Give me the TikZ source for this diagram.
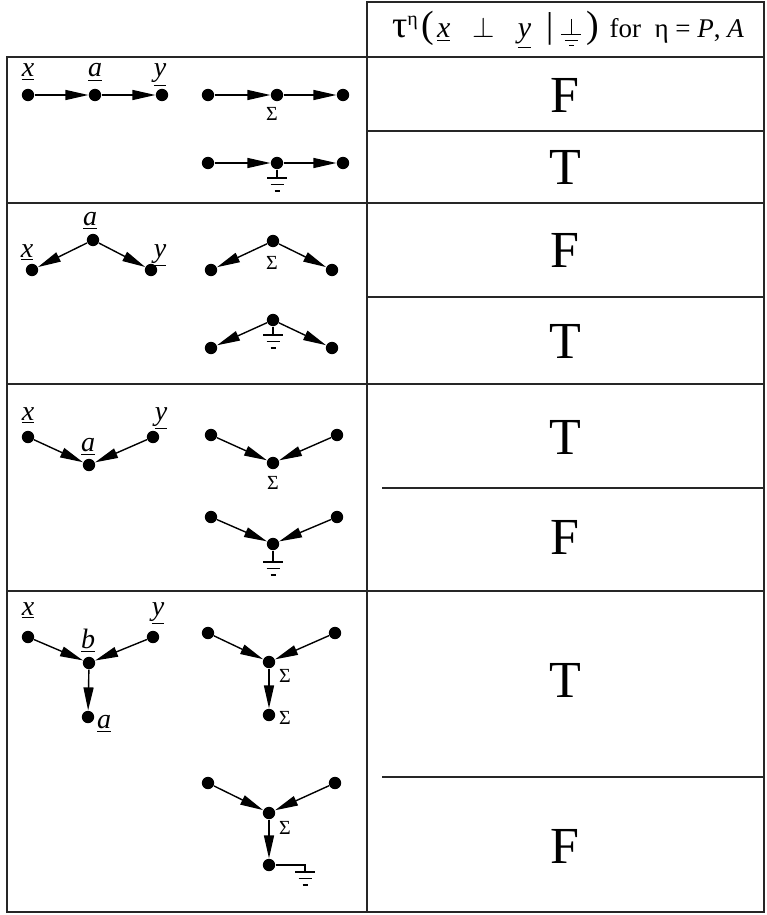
\documentclass[tikz,border=0pt]{standalone}
\usepackage{fontspec}
\setmainfont{Liberation Serif}
\usetikzlibrary{arrows.meta}

\newcommand{\ul}[1]{\underline{\textit{#1}}}
\newcommand{\gndsym}{\tikz[baseline=0pt,x=1pt,y=1pt,line width=0.55pt]{\draw (0,9.5)--(0,1.5) (-5,1.5)--(5,1.5) (-3.2,-1.2)--(3.2,-1.2) (-1.2,-3.9)--(1.2,-3.9);}}

\begin{document}
\begin{tikzpicture}[x=0.5pt,y=-0.5pt,
    dot/.style={circle,fill,inner sep=0pt,minimum size=6.2pt},
    arr/.style={-{Triangle[length=11.5pt,width=5pt]},line width=0.7pt},
    lbl/.style={font=\fontsize{14}{14}\selectfont,inner sep=0pt,anchor=base},
    sig/.style={font=\fontsize{10}{10}\selectfont,inner sep=0pt},
    tv/.style={font=\fontsize{26}{26}\selectfont},
    tabline/.style={line width=1pt,draw=black!85},
    gnd/.pic={\draw[line width=0.65pt] (-10,0) -- (10,0) (-6.5,6.5) -- (6.5,6.5) (-2.5,13) -- (2.5,13);}]
  \useasboundingbox (0,0) rectangle (766,915);

  % table
  \draw[tabline] (367,2) rectangle (764,57);
  \draw[tabline] (7,57) rectangle (764,912);
  \draw[tabline] (367,57) -- (367,912);
  \draw[tabline] (7,203) -- (764,203) (7,384) -- (764,384) (7,591) -- (764,591);
  \draw[tabline] (367,131) -- (764,131) (367,297) -- (764,297);
  \draw[tabline] (382,488) -- (764,488) (382,777) -- (764,777);

  \node (hdr) at (568,30) {{\fontsize{19}{19}\selectfont τ}\raisebox{6pt}{\fontsize{10}{10}\selectfont η}\,{\fontsize{19}{19}\selectfont (}\,{\fontsize{15}{15}\selectfont\ul{x}\ \ \ $\perp$\ \ \ \ul{y}\ \ {\fontsize{18}{18}\selectfont|}\ \gndsym\,}{\fontsize{19}{19}\selectfont )}\ \ {\fontsize{13.5}{13.5}\selectfont for\ \ η = \textit{P}, \textit{A}}};

  % chain
  \node[dot] (xA) at (28,95) {};
  \node[dot] (aA) at (95,95) {};
  \node[dot] (yA) at (162,95) {};
  \node[lbl] at (28,77) {\ul{x}};
  \node[lbl] at (95,77) {\ul{a}};
  \node[lbl] at (160,77) {\ul{y}};
  \draw[arr] (xA) -- (aA);
  \draw[arr] (aA) -- (yA);
  \node[dot] (lA1) at (208,95) {};
  \node[dot] (mA1) at (277,95) {};
  \node[dot] (rA1) at (343,95) {};
  \node[sig] at (272,114) {Σ};
  \draw[arr] (lA1) -- (mA1);
  \draw[arr] (mA1) -- (rA1);
  \node[dot] (lA2) at (208,163) {};
  \node[dot] (mA2) at (277,163) {};
  \node[dot] (rA2) at (343,163) {};
  \coordinate (gA) at (277,178);
  \draw[arr] (lA2) -- (mA2);
  \draw[arr] (mA2) -- (rA2);
  \draw[line width=0.7pt] (mA2) -- (gA);
  \pic at (gA) {gnd};
  \node[tv] (vA1) at (565,95) {F};
  \node[tv] (vA2) at (565,167) {T};

  % fork
  \node[dot] (aB) at (93,240) {};
  \node[dot] (xB) at (32,270) {};
  \node[dot] (yB) at (151,270) {};
  \node[lbl] at (90,225) {\ul{a}};
  \node[lbl] at (27,257) {\ul{x}};
  \node[lbl] at (160,257) {\ul{y}};
  \draw[arr] (aB) -- (xB);
  \draw[arr] (aB) -- (yB);
  \node[dot] (mB1) at (273,241) {};
  \node[dot] (lB1) at (211,270) {};
  \node[dot] (rB1) at (332,270) {};
  \node[sig] at (272,263) {Σ};
  \draw[arr] (mB1) -- (lB1);
  \draw[arr] (mB1) -- (rB1);
  \node[dot] (mB2) at (273,320) {};
  \node[dot] (lB2) at (211,348) {};
  \node[dot] (rB2) at (332,348) {};
  \coordinate (gB) at (273,335);
  \draw[arr] (mB2) -- (lB2);
  \draw[arr] (mB2) -- (rB2);
  \draw[line width=0.7pt] (mB2) -- (gB);
  \pic at (gB) {gnd};
  \node[tv] (vB1) at (565,250) {F};
  \node[tv] (vB2) at (565,341) {T};

  % collider
  \node[dot] (xC) at (28,437) {};
  \node[dot] (yC) at (153,437) {};
  \node[dot] (aC) at (89,465) {};
  \node[lbl] at (28,420) {\ul{x}};
  \node[lbl] at (161,420) {\ul{y}};
  \node[lbl] at (88,451) {\ul{a}};
  \draw[arr] (xC) -- (aC);
  \draw[arr] (yC) -- (aC);
  \node[dot] (lC1) at (211,435) {};
  \node[dot] (rC1) at (337,435) {};
  \node[dot] (mC1) at (273,463) {};
  \node[sig] at (273,483) {Σ};
  \draw[arr] (lC1) -- (mC1);
  \draw[arr] (rC1) -- (mC1);
  \node[dot] (lC2) at (211,517) {};
  \node[dot] (rC2) at (337,517) {};
  \node[dot] (mC2) at (273,544) {};
  \coordinate (gC) at (273,562);
  \draw[arr] (lC2) -- (mC2);
  \draw[arr] (rC2) -- (mC2);
  \draw[line width=0.7pt] (mC2) -- (gC);
  \pic at (gC) {gnd};
  \node[tv] (vC1) at (565,437) {T};
  \node[tv] (vC2) at (565,537) {F};

  % collider with descendant
  \node[dot] (xD) at (28,637) {};
  \node[dot] (yD) at (153,637) {};
  \node[dot] (bD) at (89,663) {};
  \node[dot] (aD) at (88,717) {};
  \node[lbl] at (28,615) {\ul{x}};
  \node[lbl] at (158,615) {\ul{y}};
  \node[lbl] at (88,648) {\ul{b}};
  \node[lbl] at (104,728) {\ul{a}};
  \draw[arr] (xD) -- (bD);
  \draw[arr] (yD) -- (bD);
  \draw[arr] (bD) -- (aD);
  \node[dot] (lD1) at (208,633) {};
  \node[dot] (rD1) at (335,633) {};
  \node[dot] (mD1) at (269,662) {};
  \node[dot] (bD1) at (269,715) {};
  \node[sig] at (285,676) {Σ};
  \node[sig] at (285,718) {Σ};
  \draw[arr] (lD1) -- (mD1);
  \draw[arr] (rD1) -- (mD1);
  \draw[arr] (mD1) -- (bD1);
  \node[dot] (lD2) at (208,783) {};
  \node[dot] (rD2) at (335,783) {};
  \node[dot] (mD2) at (269,813) {};
  \node[dot] (bD2) at (269,865) {};
  \node[sig] at (285,828) {Σ};
  \coordinate (gD) at (305,872);
  \draw[arr] (lD2) -- (mD2);
  \draw[arr] (rD2) -- (mD2);
  \draw[arr] (mD2) -- (bD2);
  \draw[line width=0.7pt] (bD2) -| (gD);
  \pic at (gD) {gnd};
  \node[tv] (vD1) at (565,680) {T};
  \node[tv] (vD2) at (565,846) {F};
\end{tikzpicture}
\end{document}
